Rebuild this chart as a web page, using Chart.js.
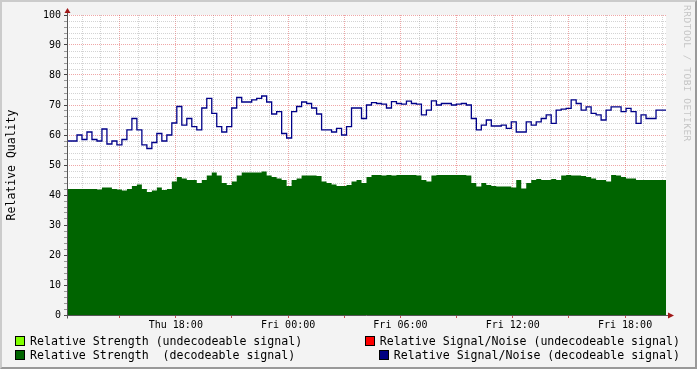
<!DOCTYPE html>
<html>
<head>
<meta charset="utf-8">
<script src="https://cdn.jsdelivr.net/npm/chart.js@4"></script>
<style>
  html, body { margin: 0; padding: 0; background: #f3f3f3; }
  #wrap { position: relative; width: 697px; height: 369px; background: #f3f3f3; overflow: hidden;
          font-family: "DejaVu Sans Mono", monospace; }
  #chart { position: absolute; left: 0; top: 0; }
  #frame { position: absolute; inset: 0; box-sizing: border-box; pointer-events: none;
           border-top: 2px solid #cbcbcb; border-left: 2px solid #cbcbcb;
           border-right: 2px solid #999999; border-bottom: 2px solid #999999; }
  .lg { position: absolute; font-size: 11.6px; line-height: 14px; white-space: pre; color: #000; }
  .sw { position: absolute; width: 8px; height: 8px; border: 1px solid #000; }
  #stamp { position: absolute; left: 682px; top: 5px; writing-mode: vertical-rl; font-size: 9.5px;
           color: #c4c4c4; white-space: pre; letter-spacing: 0.5px; }
</style>
</head>
<body>
<div id="wrap">
  <canvas id="chart" width="697" height="369"></canvas>
  <div id="stamp">RRDTOOL / TOBI OETIKER</div>
  <div class="sw" style="left:15px;top:336px;background:#80ff00"></div>
  <div class="lg" style="left:30px;top:334px">Relative Strength (undecodeable signal)</div>
  <div class="sw" style="left:15px;top:350px;background:#006400"></div>
  <div class="lg" style="left:30px;top:348px">Relative Strength  (decodeable signal)</div>
  <div class="sw" style="left:365px;top:336px;background:#ff0000"></div>
  <div class="lg" style="right:17px;top:334px">Relative Signal/Noise (undecodeable signal)</div>
  <div class="sw" style="left:379px;top:350px;background:#000080"></div>
  <div class="lg" style="right:17px;top:348px">Relative Signal/Noise (decodeable signal)</div>
  <div id="frame"></div>
</div>
<script>
  // hours counted from Thu 00:00, one sample every 16 minutes
  const startHour = 12.1867;
  const sampleHours = 0.26667;
  const endHour = 44.1867;

  const tickHours = [18, 24, 30, 36, 42];
  const tickLabels = ["Thu 18:00", "Fri 00:00", "Fri 06:00", "Fri 12:00", "Fri 18:00"];

  const snrDecodeable = [
    57.5, 58, 58, 60, 58.5, 61, 58.5, 58, 62, 57, 58, 56.7, 58.5, 61.7, 65.5, 61.7, 56.7, 55.5, 57.5, 60.5,
    58, 60, 64, 69.5, 63.3, 65.5, 62.8, 61.7, 69, 72.2, 67.2, 62.8, 61, 62.8, 69, 72.5, 71, 71, 71.7, 72.2,
    73, 71, 67, 67.8, 60.5, 59, 67.8, 69.5, 71, 70.5, 69, 67, 61.7, 61.7, 61, 62.2, 60, 62.8, 69, 69,
    65.5, 70, 70.8, 70.5, 70.3, 69, 71.1, 70.5, 70.3, 71.3, 70.5, 70.3, 66.7, 68.3, 71.4, 70, 70.5, 70.5, 70, 70.3,
    70.5, 70, 65.5, 61.7, 63.3, 65, 63, 63, 63.3, 62.2, 64.4, 61, 61, 64.4, 63.3, 64.4, 65.5, 66.7, 63.9, 68.3,
    68.6, 68.9, 71.7, 70.5, 68.3, 69.4, 67.2, 66.7, 65, 68.3, 69.4, 69.4, 67.8, 68.9, 67.8, 63.9, 66.7, 65.5, 65.5, 68.3
  ];

  const strengthDecodeable = [
    42, 42, 42, 42, 42, 42, 42, 41.8, 42.5, 42.5, 42, 41.8, 41.5, 42, 43, 43.5, 42, 41, 41.5, 42.5,
    41.7, 42, 44.5, 46, 45.5, 45, 45, 44, 45, 46.5, 47.5, 46.5, 44, 43.3, 44.5, 46.5, 47.5, 47.5, 47.5, 47.5,
    47.8, 46.5, 46, 45.5, 45, 43, 45, 45.5, 46.5, 46.5, 46.5, 46.3, 44.5, 44, 43.5, 43, 43, 43.3, 44.5, 45,
    44, 46, 46.7, 46.7, 46.5, 46.7, 46.5, 46.7, 46.7, 46.7, 46.7, 46.5, 45, 44.5, 46.5, 46.7, 46.7, 46.7, 46.7, 46.7,
    46.7, 46.5, 44, 42.8, 44, 43.3, 43, 42.8, 42.8, 42.8, 42.5, 45, 42.2, 44, 45, 45.3, 45, 45, 45.3, 45,
    46.5, 46.7, 46.5, 46.5, 46.3, 46, 45.5, 45, 45, 44.5, 46.7, 46.5, 46, 45.5, 45.5, 45, 45, 45, 45, 45
  ];

  const MONO = "DejaVu Sans Mono";
  const GRID_MINOR = "rgba(150,150,150,0.42)";
  const GRID_MAJOR = "rgba(220,60,60,0.45)";

  function toPoints(values) {
    const pts = values.map((v, i) => ({ x: startHour + i * sampleHours, y: v }));
    pts.push({ x: endHour, y: values[values.length - 1] });
    return pts;
  }

  const canvasBack = {
    id: "canvasBack",
    beforeDraw(chart) {
      const { ctx, chartArea: a } = chart;
      ctx.save();
      ctx.fillStyle = "#ffffff";
      ctx.fillRect(a.left, a.top, a.right - a.left, a.bottom - a.top);
      ctx.restore();
    },
  };

  const axesArrows = {
    id: "axesArrows",
    afterDraw(chart) {
      const { ctx, chartArea: a } = chart;
      const x0 = Math.round(a.left) + 0.5;
      const y0 = Math.round(a.bottom) + 0.5;
      ctx.save();
      ctx.strokeStyle = "#555555";
      ctx.lineWidth = 1;
      ctx.beginPath();
      ctx.moveTo(x0, y0 + 3);
      ctx.lineTo(x0, a.top - 4);
      ctx.moveTo(x0 - 3, y0);
      ctx.lineTo(a.right + 3, y0);
      ctx.stroke();
      ctx.fillStyle = "#a01818";
      ctx.beginPath();
      ctx.moveTo(x0 - 3, a.top - 2);
      ctx.lineTo(x0 + 3, a.top - 2);
      ctx.lineTo(x0, a.top - 7);
      ctx.closePath();
      ctx.fill();
      ctx.beginPath();
      ctx.moveTo(a.right + 2, y0 - 3);
      ctx.lineTo(a.right + 2, y0 + 3);
      ctx.lineTo(a.right + 8, y0);
      ctx.closePath();
      ctx.fill();
      ctx.restore();
    },
  };

  new Chart(document.getElementById("chart"), {
    type: "line",
    data: {
      datasets: [
        {
          label: "Relative Signal/Noise (decodeable signal)",
          data: toPoints(snrDecodeable),
          borderColor: "#000088",
          borderWidth: 1.3,
          pointRadius: 0,
          stepped: "after",
          fill: false,
        },
        {
          label: "Relative Strength  (decodeable signal)",
          data: toPoints(strengthDecodeable),
          borderWidth: 0,
          backgroundColor: "#006400",
          pointRadius: 0,
          stepped: "after",
          fill: "origin",
        },
      ],
    },
    options: {
      responsive: false,
      animation: false,
      layout: { padding: { left: 0, top: 15, right: 31, bottom: 0 } },
      plugins: { legend: { display: false }, tooltip: { enabled: false } },
      scales: {
        x: {
          type: "linear",
          min: startHour,
          max: endHour,
          z: 1,
          afterBuildTicks: (scale) => {
            const ticks = [];
            for (let h = Math.ceil(scale.min); h <= scale.max; h++) ticks.push({ value: h });
            scale.ticks = ticks;
          },
          afterFit: (scale) => { scale.height = 54; },
          border: { display: false, dash: [1, 1] },
          grid: {
            color: (c) => (c.tick && c.tick.value % 3 === 0 ? GRID_MAJOR : GRID_MINOR),
            tickColor: (c) => (c.tick && c.tick.value % 3 === 0 ? "#c05050" : "rgba(0,0,0,0)"),
            tickBorderDash: [],
            tickLength: 3,
          },
          ticks: {
            autoSkip: false,
            maxRotation: 0,
            minRotation: 0,
            padding: 1,
            color: "#000",
            font: { family: MONO, size: 10 },
            callback: (v) => {
              const k = tickHours.indexOf(v);
              return k >= 0 ? tickLabels[k] : "";
            },
          },
        },
        y: {
          min: 0,
          max: 100,
          z: 1,
          afterFit: (scale) => { scale.width = 67; },
          border: { display: false, dash: [1, 1] },
          grid: {
            color: (c) => (c.tick && c.tick.value % 10 === 0 ? GRID_MAJOR : GRID_MINOR),
            tickColor: (c) => (c.tick && c.tick.value % 10 === 0 ? "#444" : "#999"),
            tickBorderDash: [],
            tickLength: 3,
          },
          ticks: {
            stepSize: 2,
            autoSkip: false,
            padding: 3,
            color: "#000",
            font: { family: MONO, size: 10 },
            callback: (v) => (v % 10 === 0 ? String(v) : ""),
          },
          title: {
            display: true,
            text: "Relative Quality",
            color: "#000",
            font: { family: MONO, size: 11.5 },
            padding: { top: 5, bottom: 0 },
          },
        },
      },
    },
    plugins: [canvasBack, axesArrows],
  });
</script>
</body>
</html>
